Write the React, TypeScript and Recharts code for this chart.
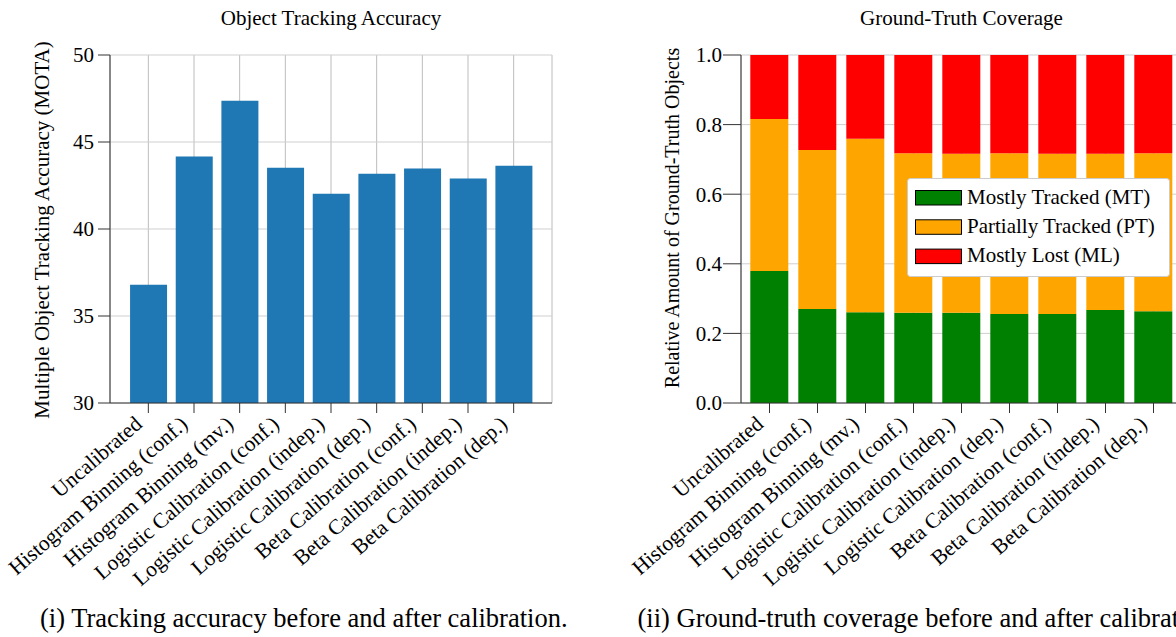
import { Bar, BarChart, CartesianGrid, Legend, XAxis, YAxis } from "recharts";

const FONT = '"Liberation Serif", "Times New Roman", serif';

const categories = [
  "Uncalibrated",
  "Histogram Binning (conf.)",
  "Histogram Binning (mv.)",
  "Logistic Calibration (conf.)",
  "Logistic Calibration (indep.)",
  "Logistic Calibration (dep.)",
  "Beta Calibration (conf.)",
  "Beta Calibration (indep.)",
  "Beta Calibration (dep.)",
];

// MOTA per calibration method
const motaValues = [36.8, 44.16, 47.37, 43.52, 42.03, 43.18, 43.47, 42.9, 43.64];
const motaTicks = [30, 35, 40, 45, 50];

// share of ground-truth objects
const mostlyTracked = [0.379, 0.27, 0.261, 0.259, 0.259, 0.256, 0.256, 0.267, 0.264];
const partiallyTracked = [0.437, 0.457, 0.498, 0.459, 0.457, 0.462, 0.46, 0.449, 0.454];
const mostlyLost = [0.184, 0.273, 0.241, 0.282, 0.284, 0.282, 0.284, 0.284, 0.282];
const coverageTicks = [0, 0.2, 0.4, 0.6, 0.8, 1.0];

const coverageSeries = [
  { key: "mt", name: "Mostly Tracked (MT)", color: "#008000" },
  { key: "pt", name: "Partially Tracked (PT)", color: "#ffa500" },
  { key: "ml", name: "Mostly Lost (ML)", color: "#ff0000" },
];

const accuracyData = categories.map((name, i) => ({ name, mota: motaValues[i] }));
const coverageData = categories.map((name, i) => ({
  name,
  mt: mostlyTracked[i],
  pt: partiallyTracked[i],
  ml: mostlyLost[i],
}));

const AXIS = "#333";
const tickStyle = { fill: "#000", fontSize: 21, fontFamily: FONT };

function SlantTick({ x, y, payload }: any) {
  return (
    <text
      transform={`translate(${x - 5},${y + 11}) rotate(-41)`}
      textAnchor="end"
      fontFamily={FONT}
      fontSize={21.5}
      fill="#000"
    >
      {payload.value}
    </text>
  );
}

function SideLabel({ viewBox, text, dx, dy = 0, size = 21 }: any) {
  const cx = viewBox.x + dx;
  const cy = viewBox.y + viewBox.height / 2 + dy;
  return (
    <text
      x={cx}
      y={cy}
      transform={`rotate(-90 ${cx} ${cy})`}
      textAnchor="middle"
      dominantBaseline="central"
      fontFamily={FONT}
      fontSize={size}
      fill="#000"
    >
      {text}
    </text>
  );
}

function CoverageLegend() {
  return (
    <svg width={263} height={99} style={{ display: "block" }}>
      <rect x={0.5} y={0.5} width={262} height={98} rx={3} fill="#fff" stroke="#cccccc" />
      {coverageSeries.map((s, i) => (
        <g key={s.key}>
          <rect x={8.5} y={12.5 + i * 29.3} width={46} height={14.5} fill={s.color} stroke="#000" />
          <text x={60} y={25.5 + i * 29.3} fontFamily={FONT} fontSize={21} fill="#000">
            {s.name}
          </text>
        </g>
      ))}
    </svg>
  );
}

function AccuracyChart() {
  return (
    <BarChart
      width={600}
      height={637}
      data={accuracyData}
      margin={{ top: 55, right: 48, bottom: 0, left: 0 }}
      barCategoryGap="10%"
    >
      <CartesianGrid horizontal={false} stroke="#bcbcbc" />
      <CartesianGrid vertical={false} stroke="#cfcfcf" />
      <XAxis
        dataKey="name"
        interval={0}
        height={234}
        padding={{ left: 15.5, right: 15.5 }}
        tick={<SlantTick />}
        tickSize={10}
        tickMargin={2}
        stroke={AXIS}
      />
      <XAxis xAxisId="top" orientation="top" dataKey="name" height={0} tick={false} tickLine={false} stroke={AXIS} />
      <YAxis
        domain={[30, 50]}
        ticks={motaTicks}
        width={110}
        tickSize={12}
        tickMargin={4}
        stroke={AXIS}
        tick={tickStyle}
        label={<SideLabel text="Multiple Object Tracking Accuracy (MOTA)" dx={42} dy={1} />}
      />
      <YAxis yAxisId="r" orientation="right" width={0} domain={[30, 50]} tick={false} tickLine={false} stroke={AXIS} />
      <Bar dataKey="mota" fill="#1f77b4" isAnimationActive={false} />
    </BarChart>
  );
}

function CoverageChart() {
  return (
    <BarChart
      width={600}
      height={637}
      data={coverageData}
      margin={{ top: 55, right: 38, bottom: 0, left: 0 }}
      barCategoryGap="10%"
    >
      <CartesianGrid horizontal={false} stroke="#bcbcbc" />
      <CartesianGrid vertical={false} stroke="#cfcfcf" />
      <XAxis
        dataKey="name"
        interval={0}
        height={234}
        padding={{ left: 4.5, right: 4.5 }}
        tick={<SlantTick />}
        tickSize={10}
        tickMargin={2}
        stroke={AXIS}
      />
      <XAxis xAxisId="top" orientation="top" dataKey="name" height={0} tick={false} tickLine={false} stroke={AXIS} />
      <YAxis
        domain={[0, 1]}
        ticks={coverageTicks}
        tickFormatter={(v: number) => v.toFixed(1)}
        width={121}
        tickSize={18}
        tickMargin={1}
        stroke={AXIS}
        tick={tickStyle}
        label={<SideLabel text="Relative Amount of Ground-Truth Objects" dx={52} dy={-11} size={20} />}
      />
      <YAxis yAxisId="r" orientation="right" width={0} domain={[0, 1]} tick={false} tickLine={false} stroke={AXIS} />
      {coverageSeries.map((s) => (
        <Bar key={s.key} dataKey={s.key} name={s.name} stackId="gt" fill={s.color} isAnimationActive={false} />
      ))}
      <Legend
        layout="vertical"
        align="center"
        verticalAlign="middle"
        wrapperStyle={{ left: 286.7, top: 178.3, width: 263, height: 99 }}
        content={() => <CoverageLegend />}
      />
    </BarChart>
  );
}

export default function App() {
  return (
    <div
      style={{
        position: "absolute",
        left: 0,
        top: 0,
        width: 1176,
        height: 637,
        overflow: "hidden",
        background: "#fff",
      }}
    >
      <div style={{ position: "absolute", left: 0, top: 0 }}>
        <AccuracyChart />
      </div>
      <div style={{ position: "absolute", left: 620, top: 0 }}>
        <CoverageChart />
      </div>
      <svg
        width={1176}
        height={637}
        style={{ position: "absolute", left: 0, top: 0, pointerEvents: "none" }}
      >
        <g fontFamily={FONT} fill="#000">
          <text x={331} y={25} textAnchor="middle" fontSize={21}>
            Object Tracking Accuracy
          </text>
          <text x={961.5} y={25} textAnchor="middle" fontSize={21}>
            Ground-Truth Coverage
          </text>
          <text x={40} y={627} fontSize={26.5}>
            (i) Tracking accuracy before and after calibration.
          </text>
          <text x={637.5} y={627} fontSize={26.5}>
            (ii) Ground-truth coverage before and after calibration.
          </text>
        </g>
      </svg>
    </div>
  );
}
